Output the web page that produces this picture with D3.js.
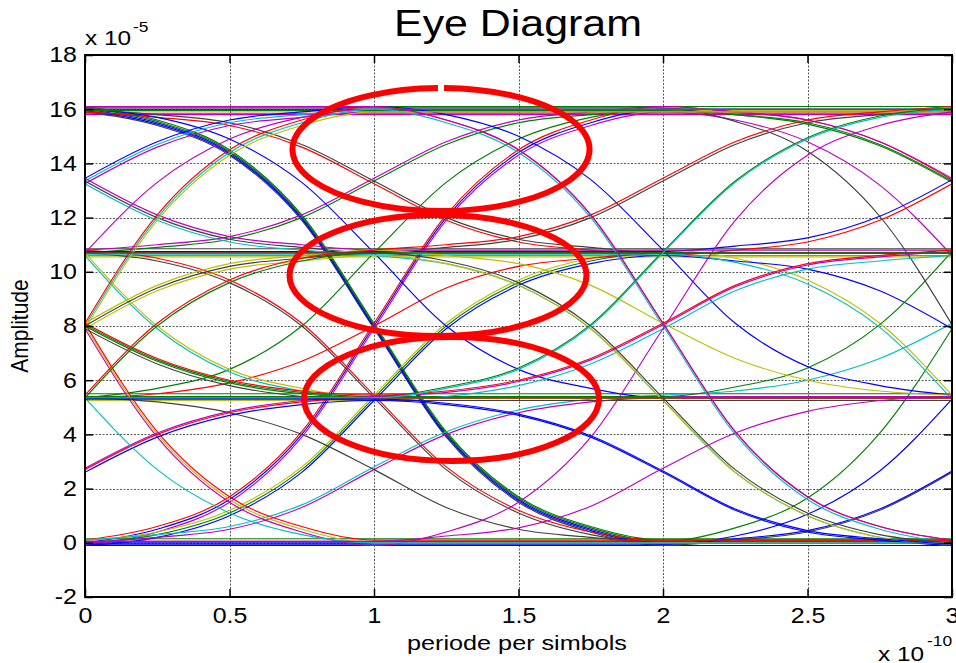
<!DOCTYPE html>
<html>
<head>
<meta charset="utf-8">
<script src="https://cdn.jsdelivr.net/npm/d3@7"></script>
<style>
  body { margin: 0; background: #fff; }
  svg { display: block; }
  text { font-family: "Liberation Sans", Arial, sans-serif; fill: #000; }
</style>
</head>
<body>
<svg id="chart" width="956" height="663"></svg>
<script>
// sample instants, unit 1e-10 s
var sampleT = [0, 0.25, 0.5, 0.75, 1, 1.25, 1.5, 1.75, 2, 2.25, 2.5, 2.75, 3];
var xTickVals = [0, 0.5, 1, 1.5, 2, 2.5, 3];
var yTickVals = [-2, 0, 2, 4, 6, 8, 10, 12, 14, 16, 18];

// amplitude (unit 1e-5) of each trace at sampleT
// traces whose symbol edges sit at t=1 and t=3
var oddTraces = [
	[16, 15.5, 14.4, 12.0, 8.0, 4.0, 1.6, 0.5, 0, 0, 0, 0, 0],
	[16.1, 15.6, 14.5, 12.1, 8.1, 4.1, 1.7, 0.6, 0.1, 0.1, 0.1, 0.1, 0.1],
	[15.9, 15.4, 14.3, 11.9, 7.9, 3.9, 1.5, 0.4, -0.1, 0.1, 0.4, 1.2, 2.6],
	[16.05, 15.55, 14.45, 12.05, 8.05, 4.05, 1.65, 0.55, 0.05, 0.55, 1.65, 4.05, 7.9],
	[15.95, 15.45, 14.35, 11.95, 7.95, 3.95, 1.55, 0.45, -0.05, 0.25, 1.05, 2.65, 5.3],
	[0, 0.5, 1.6, 4.0, 8.0, 12.0, 14.4, 15.5, 16, 16, 16, 16, 16],
	[0.1, 0.6, 1.7, 4.1, 8.1, 12.1, 14.5, 15.6, 16.1, 15.9, 15.6, 14.8, 13.4],
	[-0.1, 0.4, 1.5, 3.9, 7.9, 11.9, 14.3, 15.4, 15.9, 15.6, 14.8, 13.2, 10.6],
	[5.35, 5.7, 6.4, 8.0, 10.7, 13.3, 14.9, 15.7, 16, 16, 16, 16, 16],
	[10.7, 10.4, 9.6, 8.0, 5.35, 2.7, 1.1, 0.3, 0, 0, 0, 0, 0],
	[10.8, 10.5, 9.7, 8.1, 5.45, 2.8, 1.2, 0.4, 0.1, 0.1, 0.1, 0.1, 0.1],
	[0, 0.3, 1.1, 2.7, 5.35, 8.0, 9.6, 10.4, 10.7, 10.7, 10.7, 10.7, 10.7],
	[0.1, 0.4, 1.2, 2.8, 5.45, 8.1, 9.7, 10.5, 10.8, 10.5, 9.7, 8.1, 5.45],
	[-0.1, 0.2, 1.0, 2.6, 5.25, 7.9, 9.5, 10.3, 10.6, 10.4, 10.1, 9.3, 7.9],
	[0, 0.2, 0.5, 1.3, 2.7, 4.0, 4.8, 5.2, 5.35, 5.35, 5.35, 5.35, 5.35],
	[0.1, 0.3, 0.6, 1.4, 2.8, 4.1, 4.9, 5.3, 5.45, 5.6, 6.0, 6.8, 8.1],
	[16, 15.8, 15.5, 14.7, 13.35, 12.0, 11.2, 10.9, 10.7, 10.7, 10.7, 10.7, 10.7],
	[15.9, 15.7, 15.4, 14.6, 13.25, 11.9, 11.1, 10.8, 10.6, 10.8, 11.1, 11.9, 13.25],
	[10.7, 10.9, 11.2, 12.0, 13.35, 14.7, 15.5, 15.8, 16, 15.8, 15.5, 14.7, 13.35],
	[10.8, 11.0, 11.3, 12.1, 13.45, 14.8, 15.6, 15.9, 16.1, 15.9, 15.6, 14.8, 13.45],
	[5.35, 5.5, 5.9, 6.7, 8.0, 9.4, 10.2, 10.5, 10.7, 10.7, 10.7, 10.7, 10.7],
	[16, 15.7, 14.9, 13.3, 10.7, 8.0, 6.4, 5.7, 5.35, 5.35, 5.35, 5.35, 5.35],
	[5.35, 5.2, 4.8, 4.0, 2.7, 1.3, 0.5, 0.2, 0, 0, 0, 0, 0],
	[15.95, 15.95, 15.95, 15.95, 15.95, 15.95, 15.95, 15.95, 15.95, 15.8, 15.45, 14.65, 13.3],
	[16.05, 16.05, 16.05, 16.05, 16.05, 16.05, 16.05, 16.05, 16.05, 15.55, 14.45, 12.05, 8.05],
	[10.75, 10.75, 10.75, 10.75, 10.75, 10.75, 10.75, 10.75, 10.75, 10.95, 11.25, 12.05, 13.4],
	[5.4, 5.4, 5.4, 5.4, 5.4, 5.4, 5.4, 5.4, 5.4, 5.75, 6.45, 8.05, 10.75],
	[-0.05, -0.05, -0.05, -0.05, -0.05, -0.05, -0.05, -0.05, -0.05, 0.15, 0.45, 1.25, 2.65],
	[10.65, 10.65, 10.65, 10.65, 10.65, 10.65, 10.65, 10.65, 10.65, 10.35, 9.55, 7.95, 5.3]
];
var oddColors = ["b", "g", "k", "g", "b", "b", "r", "m", "g", "k", "r", "g", "y", "b", "m",
	"c", "k", "r", "g", "m", "r", "b", "k", "g", "k", "b", "g", "b", "c"];

// traces whose symbol edges sit at t=0 and t=2
var evenTraces = [
	[13.35, 14.7, 15.5, 15.8, 16, 16, 16, 16, 16, 16, 16, 16, 16],
	[13.25, 14.6, 15.4, 15.7, 15.9, 15.9, 15.9, 15.9, 15.9, 15.9, 15.9, 15.9, 15.9],
	[13.45, 14.8, 15.6, 15.9, 16.1, 15.8, 15.0, 13.4, 10.8, 8.1, 6.5, 5.8, 5.45],
	[13.35, 12.0, 11.2, 10.9, 10.7, 10.9, 11.2, 12.0, 13.35, 14.7, 15.5, 15.8, 16],
	[13.45, 12.1, 11.3, 11.0, 10.8, 10.8, 10.8, 10.8, 10.8, 10.8, 10.8, 10.8, 10.8],
	[13.25, 11.9, 11.1, 10.8, 10.6, 10.3, 9.5, 7.9, 5.25, 2.6, 1.0, 0.2, -0.1],
	[10.7, 13.3, 14.9, 15.7, 16, 16, 16, 16, 16, 16, 16, 16, 16],
	[10.7, 8.0, 6.4, 5.7, 5.35, 5.35, 5.35, 5.35, 5.35, 5.35, 5.35, 5.35, 5.35],
	[10.6, 7.9, 6.3, 5.6, 5.25, 5.4, 5.8, 6.6, 7.9, 9.3, 10.1, 10.4, 10.6],
	[8.0, 12.0, 14.4, 15.5, 16, 15.5, 14.4, 12.0, 8.0, 4.0, 1.6, 0.5, 0],
	[8.1, 12.1, 14.5, 15.6, 16.1, 15.6, 14.5, 12.1, 8.1, 4.1, 1.7, 0.6, 0.1],
	[7.9, 11.9, 14.3, 15.4, 15.9, 15.9, 15.9, 15.9, 15.9, 15.9, 15.9, 15.9, 15.9],
	[8.0, 4.0, 1.6, 0.5, 0, 0, 0, 0, 0, 0, 0, 0, 0],
	[8.1, 4.1, 1.7, 0.6, 0.1, 0.1, 0.1, 0.1, 0.1, 0.1, 0.1, 0.1, 0.1],
	[7.9, 3.9, 1.5, 0.4, -0.1, 0.4, 1.5, 3.9, 7.9, 11.9, 14.3, 15.4, 15.9],
	[8.0, 9.4, 10.2, 10.5, 10.7, 10.7, 10.7, 10.7, 10.7, 10.7, 10.7, 10.7, 10.7],
	[8.1, 9.5, 10.3, 10.6, 10.8, 10.6, 10.3, 9.5, 8.1, 6.8, 6.0, 5.6, 5.45],
	[7.9, 9.3, 10.1, 10.4, 10.6, 10.3, 9.5, 7.9, 5.25, 2.6, 1.0, 0.2, -0.1],
	[8.0, 6.7, 5.9, 5.5, 5.35, 5.35, 5.35, 5.35, 5.35, 5.35, 5.35, 5.35, 5.35],
	[7.9, 6.6, 5.8, 5.4, 5.25, 5.25, 5.25, 5.25, 5.25, 5.25, 5.25, 5.25, 5.25],
	[8.05, 6.75, 5.95, 5.55, 5.4, 5.75, 6.45, 8.05, 10.75, 13.35, 14.95, 15.75, 16.05],
	[8.1, 6.8, 6.0, 5.6, 5.45, 5.6, 6.0, 6.8, 8.1, 9.5, 10.3, 10.6, 10.8],
	[2.7, 4.0, 4.8, 5.2, 5.35, 5.35, 5.35, 5.35, 5.35, 5.35, 5.35, 5.35, 5.35],
	[2.75, 4.05, 4.85, 5.25, 5.4, 5.55, 5.95, 6.75, 8.05, 9.45, 10.25, 10.55, 10.75],
	[2.6, 3.9, 4.7, 5.1, 5.25, 5.1, 4.7, 3.9, 2.6, 1.2, 0.4, 0.1, -0.1],
	[5.35, 2.7, 1.1, 0.3, 0, 0, 0, 0, 0, 0, 0, 0, 0],
	[5.35, 8.0, 9.6, 10.4, 10.7, 10.7, 10.7, 10.7, 10.7, 10.7, 10.7, 10.7, 10.7],
	[5.45, 8.1, 9.7, 10.5, 10.8, 11.0, 11.3, 12.1, 13.45, 14.8, 15.6, 15.9, 16.1],
	[16.1, 16.1, 16.1, 16.1, 16.1, 15.6, 14.5, 12.1, 8.1, 4.1, 1.7, 0.6, 0.1],
	[10.7, 10.7, 10.7, 10.7, 10.7, 10.4, 9.6, 8.0, 5.35, 2.7, 1.1, 0.3, 0],
	[5.35, 5.35, 5.35, 5.35, 5.35, 5.7, 6.4, 8.0, 10.7, 13.3, 14.9, 15.7, 16],
	[5.3, 5.3, 5.3, 5.3, 5.3, 5.15, 4.75, 3.95, 2.65, 1.25, 0.45, 0.15, -0.05],
	[0.05, 0.05, 0.05, 0.05, 0.05, 0.25, 0.55, 1.35, 2.75, 4.05, 4.85, 5.25, 5.4]
];
var evenColors = ["c", "m", "b", "k", "m", "c", "m", "y", "c", "c", "r", "y", "y", "r", "m",
	"k", "y", "y", "g", "k", "g", "r", "r", "m", "b", "c", "g", "r", "m", "k", "c", "b", "m"];

// traces that stay on one level
var flatTraces = [
	[16, 16, 16, 16, 16, 16, 16, 16, 16, 16, 16, 16, 16],
	[15.85, 15.85, 15.85, 15.85, 15.85, 15.85, 15.85, 15.85, 15.85, 15.85, 15.85, 15.85, 15.85],
	[16.1, 16.1, 16.1, 16.1, 16.1, 16.1, 16.1, 16.1, 16.1, 16.1, 16.1, 16.1, 16.1],
	[15.95, 15.95, 15.95, 15.95, 15.95, 15.95, 15.95, 15.95, 15.95, 15.95, 15.95, 15.95, 15.95],
	[15.8, 15.8, 15.8, 15.8, 15.8, 15.8, 15.8, 15.8, 15.8, 15.8, 15.8, 15.8, 15.8],
	[10.7, 10.7, 10.7, 10.7, 10.7, 10.7, 10.7, 10.7, 10.7, 10.7, 10.7, 10.7, 10.7],
	[10.55, 10.55, 10.55, 10.55, 10.55, 10.55, 10.55, 10.55, 10.55, 10.55, 10.55, 10.55, 10.55],
	[10.85, 10.85, 10.85, 10.85, 10.85, 10.85, 10.85, 10.85, 10.85, 10.85, 10.85, 10.85, 10.85],
	[10.6, 10.6, 10.6, 10.6, 10.6, 10.6, 10.6, 10.6, 10.6, 10.6, 10.6, 10.6, 10.6],
	[5.35, 5.35, 5.35, 5.35, 5.35, 5.35, 5.35, 5.35, 5.35, 5.35, 5.35, 5.35, 5.35],
	[5.25, 5.25, 5.25, 5.25, 5.25, 5.25, 5.25, 5.25, 5.25, 5.25, 5.25, 5.25, 5.25],
	[5.5, 5.5, 5.5, 5.5, 5.5, 5.5, 5.5, 5.5, 5.5, 5.5, 5.5, 5.5, 5.5],
	[5.4, 5.4, 5.4, 5.4, 5.4, 5.4, 5.4, 5.4, 5.4, 5.4, 5.4, 5.4, 5.4],
	[0, 0, 0, 0, 0, 0, 0, 0, 0, 0, 0, 0, 0],
	[-0.1, -0.1, -0.1, -0.1, -0.1, -0.1, -0.1, -0.1, -0.1, -0.1, -0.1, -0.1, -0.1],
	[0.15, 0.15, 0.15, 0.15, 0.15, 0.15, 0.15, 0.15, 0.15, 0.15, 0.15, 0.15, 0.15],
	[0.05, 0.05, 0.05, 0.05, 0.05, 0.05, 0.05, 0.05, 0.05, 0.05, 0.05, 0.05, 0.05]
];
var flatColors = ["b", "r", "g", "y", "m", "r", "y", "k", "c", "b", "y", "g", "m", "b", "b", "g", "r"];

// matlab default line colours
var matColor = { b: "#0000ff", g: "#008000", r: "#ff0000", c: "#00bfbf", m: "#bf00bf", y: "#bfbf00", k: "#404040" };

(function () {
	var svg = d3.select("#chart");
	var padL = 85, padR = 952, padT = 55, padB = 597;
	var stretch = 1.16;

	svg.append("rect").attr("width", 956).attr("height", 663).attr("fill", "#fff");

	var x = d3.scaleLinear().domain([0, 3]).range([padL, padR]);
	var y = d3.scaleLinear().domain([-2, 18]).range([padB, padT]);

	// grid
	var grid = svg.append("g").attr("stroke", "#5a5a5a").attr("stroke-width", 1).attr("stroke-dasharray", "2,1.5");
	grid.selectAll("line.gx").data(xTickVals.slice(1, -1)).enter().append("line")
		.attr("x1", d => Math.round(x(d)) + 0.5).attr("x2", d => Math.round(x(d)) + 0.5)
		.attr("y1", padT).attr("y2", padB);
	grid.selectAll("line.gy").data(yTickVals.slice(1, -1)).enter().append("line")
		.attr("y1", d => Math.round(y(d)) + 0.5).attr("y2", d => Math.round(y(d)) + 0.5)
		.attr("x1", padL).attr("x2", padR);

	svg.append("clipPath").attr("id", "plotclip").append("rect")
		.attr("x", padL).attr("y", padT).attr("width", padR - padL).attr("height", padB - padT);

	var line = d3.line()
		.x((d, i) => x(sampleT[i]))
		.y(d => y(d))
		.curve(d3.curveMonotoneX);

	var plot = svg.append("g").attr("clip-path", "url(#plotclip)").attr("fill", "none").attr("stroke-width", 1.15);

	function drawSet(set, colors) {
		plot.selectAll(null).data(set).enter().append("path")
			.attr("d", line)
			.attr("stroke", (d, i) => matColor[colors[i]]);
	}
	drawSet(flatTraces, flatColors);
	drawSet(oddTraces, oddColors);
	drawSet(evenTraces, evenColors);

	// axes, ticks inward like matlab
	var fmt = d => String(d);
	var ax = svg.append("g");

	ax.append("g").attr("transform", "translate(" + padL + ",0)")
		.call(d3.axisLeft(y).tickValues(yTickVals).tickSize(-8).tickSizeOuter(0).tickPadding(7).tickFormat(fmt));
	ax.append("g").attr("transform", "translate(0," + padB + ")")
		.call(d3.axisBottom(x).tickValues(xTickVals).tickSize(-8).tickSizeOuter(0).tickPadding(11).tickFormat(fmt));
	ax.append("g").attr("transform", "translate(0," + padT + ")")
		.call(d3.axisTop(x).tickValues(xTickVals).tickSize(-8).tickSizeOuter(0).tickFormat(""));
	ax.append("g").attr("transform", "translate(" + padR + ",0)")
		.call(d3.axisRight(y).tickValues(yTickVals).tickSize(-8).tickSizeOuter(0).tickFormat(""));

	ax.selectAll(".domain").remove();
	ax.selectAll(".tick line").attr("stroke", "#000").attr("stroke-width", 1.5);
	ax.selectAll("text").attr("font-family", "Liberation Sans, Arial, sans-serif").attr("font-size", 21.5)
		.attr("transform", "scale(" + stretch + ",1)");

	svg.append("rect").attr("x", padL).attr("y", padT).attr("width", padR - padL).attr("height", padB - padT)
		.attr("fill", "none").attr("stroke", "#000").attr("stroke-width", 2);

	// title and labels
	svg.append("text").attr("transform", "translate(518,36) scale(" + stretch + ",1)")
		.attr("text-anchor", "middle").attr("font-size", 37).text("Eye Diagram");
	svg.append("text").attr("transform", "translate(517,650) scale(1.2,1)")
		.attr("text-anchor", "middle").attr("font-size", 21).text("periode per simbols");
	svg.append("text").attr("transform", "translate(28,326) rotate(-90) scale(1," + stretch + ")")
		.attr("text-anchor", "middle").attr("font-size", 21).text("Amplitude");

	svg.append("text").attr("transform", "translate(85,45) scale(" + stretch + ",1)").attr("font-size", 21).text("x 10");
	svg.append("text").attr("transform", "translate(133,32) scale(" + stretch + ",1)").attr("font-size", 15).text("-5");
	svg.append("text").attr("transform", "translate(878,661) scale(" + stretch + ",1)").attr("font-size", 21).text("x 10");
	svg.append("text").attr("transform", "translate(927,646) scale(" + stretch + ",1)").attr("font-size", 15).text("-10");

	// red marks drawn over the eye openings
	var marks = svg.append("g").attr("fill", "none").attr("stroke", "#ff0000").attr("stroke-width", 6);
	marks.append("path").attr("d", "M444,88 A148.5,61.5 0 1 1 438,88");
	marks.append("ellipse").attr("cx", 438).attr("cy", 275.5).attr("rx", 148.5).attr("ry", 60.5);
	marks.append("ellipse").attr("cx", 451.5).attr("cy", 399).attr("rx", 147.5).attr("ry", 62);
})();
</script>
</body>
</html>
